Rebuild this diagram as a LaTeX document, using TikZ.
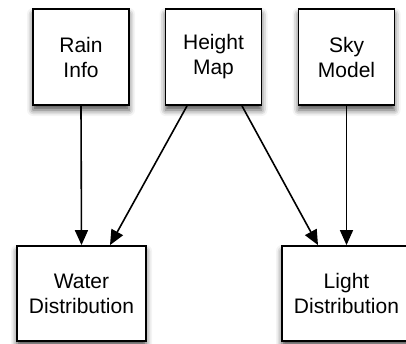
\documentclass[tikz,border=0pt]{standalone}
\usepackage{fontspec}
\setmainfont{Liberation Sans}
\usetikzlibrary{arrows.meta,positioning,shadows.blur}

\begin{document}
\begin{tikzpicture}[
  x=1pt, y=-1pt,
  font=\fontsize{21}{25}\selectfont,
  box/.style={draw, line width=1.8pt, fill=white, align=center, inner sep=0pt,
    blur shadow={shadow xshift=0pt, shadow yshift=-5pt, shadow blur radius=6pt, shadow opacity=70}},
  src/.style={box, minimum width=96pt, minimum height=96pt},
  dst/.style={box, minimum width=129pt, minimum height=95pt},
  arr/.style={-{Triangle[length=15pt,width=13pt]}, line width=1.6pt}
]
\useasboundingbox (0,0) rectangle (406,343);
\node[src] (rain) at (81,57)    {Rain\\Info};
\node[src] (hmap) at (213.5,57) {Height\\Map};
\node[src] (sky)  at (346.5,57) {Sky\\Model};
\node[dst] (water) at (81.5,293.5)  {Water\\Distribution};
\node[dst] (light) at (346.5,293.5) {Light\\Distribution};
\draw[arr] (rain.south) -- (water.north);
\draw[arr] ([xshift=-26.5pt]hmap.south) -- ([xshift=28.5pt]water.north);
\draw[arr] ([xshift=28.5pt]hmap.south) -- ([xshift=-28.5pt]light.north);
\draw[arr] (sky.south) -- (light.north);
\end{tikzpicture}
\end{document}
